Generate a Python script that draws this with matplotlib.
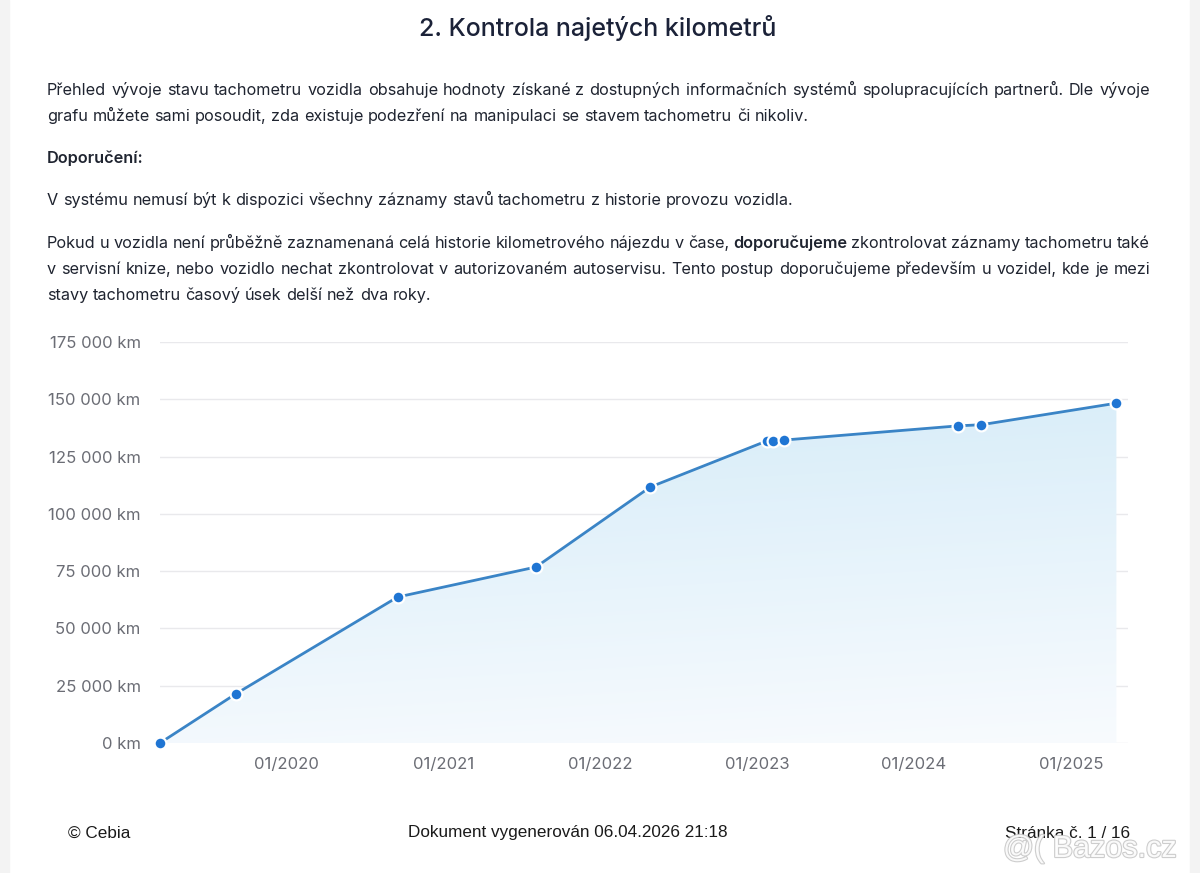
import datetime as dt
import numpy as np
import matplotlib
matplotlib.use("Agg")
from matplotlib import pyplot as plt
import matplotlib.dates as mdates
from matplotlib.patches import Polygon, Rectangle
from matplotlib.ticker import FuncFormatter, FixedLocator
import matplotlib.patheffects as pe

# odometer readings
dates = ["2019-03-13", "2019-09-05", "2020-09-16", "2021-08-04", "2022-04-27",
         "2023-01-23", "2023-02-06", "2023-03-04", "2024-04-12", "2024-06-06",
         "2025-04-16"]
km = [0, 21400, 63700, 76800, 111700, 131800, 132000, 132200, 138400, 138900, 148300]
y_ticks = [0, 25000, 50000, 75000, 100000, 125000, 150000, 175000]
x_tick_years = [2020, 2021, 2022, 2023, 2024, 2025]
x_range = ["2019-03-13", "2025-05-13"]

title = "2. Kontrola najetých kilometrů"
para1 = ["Přehled vývoje stavu tachometru vozidla obsahuje hodnoty získané z dostupných informačních systémů spolupracujících partnerů. Dle vývoje",
         "grafu můžete sami posoudit, zda existuje podezření na manipulaci se stavem tachometru či nikoliv."]
heading = "Doporučení:"
para2 = ["V systému nemusí být k dispozici všechny záznamy stavů tachometru z historie provozu vozidla."]
para3 = ["Pokud u vozidla není průběžně zaznamenaná celá historie kilometrového nájezdu v čase, *doporučujeme zkontrolovat záznamy tachometru také",
         "v servisní knize, nebo vozidlo nechat zkontrolovat v autorizovaném autoservisu. Tento postup doporučujeme především u vozidel, kde je mezi",
         "stavy tachometru časový úsek delší než dva roky."]
footer_left = "© Cebia"
footer_mid = "Dokument vygenerován 06.04.2026 21:18"
footer_right = "Stránka č. 1 / 16"

W, H = 1200, 873
FONT = ["Inter", "DejaVu Sans"]
TXT = "#1f2430"
BODY = 11.7

fig = plt.figure(figsize=(W / 100, H / 100), dpi=100)
fig.patch.set_facecolor("white")
# page edges
fig.patches.append(Rectangle((0, 0), 9 / W, 1, transform=fig.transFigure, color="#f3f3f3", zorder=0))
fig.patches.append(Rectangle((1190 / W, 0), 10 / W, 1, transform=fig.transFigure, color="#f3f3f3", zorder=0))

renderer = fig.canvas.get_renderer()


def fx(px):
    return px / W


def fy(py):
    return 1 - py / H


def text_width(s, **kw):
    t = fig.text(0, 0, s, **kw)
    w = t.get_window_extent(renderer).width
    t.remove()
    return w


def draw_line(line, ypx, justify=True, x0=47, x1=1150, size=BODY):
    # ypx = baseline in pixels; words marked with * are bold
    words = []
    for w in line.split(" "):
        if w.startswith("*"):
            words.append((w[1:], True))
        else:
            words.append((w, False))
    kws = []
    widths = []
    for w, b in words:
        kw = dict(fontsize=size, family=FONT, color=TXT, weight=600 if b else "normal")
        kws.append(kw)
        widths.append(text_width(w, **kw))
    space = text_width("a a", fontsize=size, family=FONT) - text_width("aa", fontsize=size, family=FONT)
    if justify and len(words) > 1:
        space = (x1 - x0 - sum(widths)) / (len(words) - 1)
    x = x0
    for (w, b), kw, wd in zip(words, kws, widths):
        fig.text(fx(x), fy(ypx), w, va="baseline", ha="left", **kw)
        x += wd + space


fig.text(fx(598), fy(28), title, ha="center", va="center", fontsize=18, family=FONT,
         weight=500, color="#1b2238")

draw_line(para1[0], 95)
draw_line(para1[1], 121, justify=False)
fig.text(fx(47), fy(163), heading, ha="left", va="baseline", fontsize=BODY, family=FONT,
         weight=600, color=TXT)
draw_line(para2[0], 205, justify=False)
draw_line(para3[0], 248)
draw_line(para3[1], 274)
draw_line(para3[2], 300, justify=False)

# chart
x = mdates.date2num([dt.datetime.strptime(d, "%Y-%m-%d") for d in dates])
y = np.array(km, dtype=float)
xr = mdates.date2num([dt.datetime.strptime(d, "%Y-%m-%d") for d in x_range])

ax = fig.add_axes([fx(160), fy(743), (1128 - 160) / W, (743 - 342) / H])
ax.set_xlim(xr[0], xr[1])
ax.set_ylim(0, 175000)
for s in ax.spines.values():
    s.set_visible(False)

ax.yaxis.set_major_locator(FixedLocator(y_ticks))
ax.yaxis.set_major_formatter(FuncFormatter(lambda v, p: f"{int(v):,}".replace(",", " ") + " km"))
ax.xaxis.set_major_locator(FixedLocator(mdates.date2num([dt.datetime(yy, 1, 1) for yy in x_tick_years])))
ax.xaxis.set_major_formatter(mdates.DateFormatter("%m/%Y"))
ax.tick_params(axis="both", length=0, labelsize=12, labelcolor="#6b6d75")
ax.tick_params(axis="y", pad=14)
ax.tick_params(axis="x", pad=10)
for lab in ax.get_xticklabels() + ax.get_yticklabels():
    lab.set_family(FONT)
ax.grid(axis="y", color="#e9e9ec", lw=1)
ax.set_axisbelow(True)

# gradient fill under the line
gx = np.linspace(0, 1, 200)
gy = np.linspace(0, 1, 200)
GX, GY = np.meshgrid(gx, gy)
t = np.clip(GY * 0.85 - GX * 0.12 + 0.12, 0, 1)  # 0 bottom, 1 top
top = np.array([207, 233, 247]) / 255
bot = np.array([248, 251, 254]) / 255
img = bot + (top - bot) * t[..., None]
im = ax.imshow(img, extent=[xr[0], xr[1], 0, 175000], origin="lower", aspect="auto",
               zorder=1, interpolation="bilinear")
poly = Polygon(np.column_stack([np.r_[x, x[-1], x[0]], np.r_[y, 0, 0]]),
               closed=True, transform=ax.transData, facecolor="none", edgecolor="none")
ax.add_patch(poly)
im.set_clip_path(poly)

ax.plot(x, y, color="#3a84c6", lw=2, zorder=3, clip_on=False)
ax.plot(x, y, ls="none", marker="o", ms=8.5, mfc="#1f75d3", mec="white", mew=1.6,
        zorder=4, clip_on=False)

# footer
FOOT = ["Liberation Sans", "DejaVu Sans"]
fig.text(fx(68), fy(833), footer_left, ha="left", va="center", fontsize=12.3, family=FOOT, color="#1a1a1a")
fig.text(fx(568), fy(833), footer_mid, ha="center", va="center", fontsize=12.3, family=FOOT, color="#1a1a1a")
fig.text(fx(1005), fy(833), footer_right, ha="left", va="center", fontsize=12.3, family=FOOT, color="#1a1a1a")
# site watermark, overlapping the page number as in the screenshot
fig.text(fx(1003), fy(849), "@( Bazos.cz", ha="left", va="center", fontsize=22, family=FOOT,
         color="white", alpha=0.9,
         path_effects=[pe.withStroke(linewidth=1.6, foreground="#c8c8c8")], zorder=5)

fig.savefig("out.png", dpi=100, facecolor="white")
